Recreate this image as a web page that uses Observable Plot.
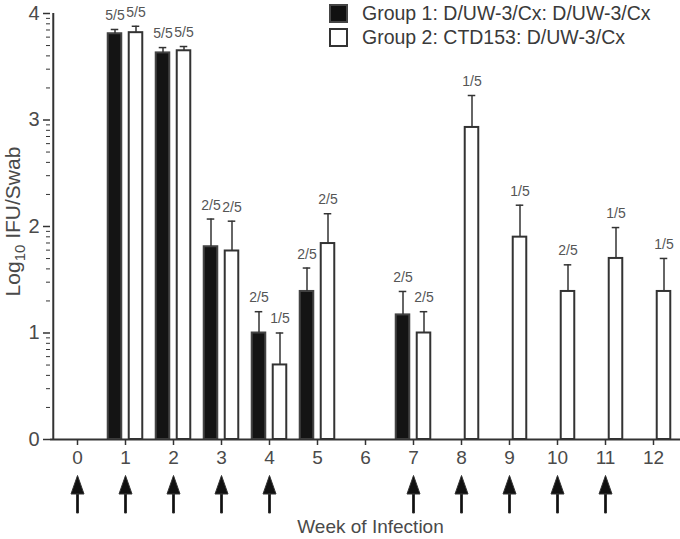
<!DOCTYPE html>
<html>
<head>
<meta charset="utf-8">
<script src="https://cdn.jsdelivr.net/npm/d3@7"></script>
<script src="https://cdn.jsdelivr.net/npm/@observablehq/plot@0.6"></script>
<style>
  body { margin: 0; background: #fff; font-family: "Liberation Sans", Arial, Helvetica, sans-serif; }
  #wrap { position: relative; width: 680px; height: 539px; }
  #legend { position: absolute; left: 329px; top: 1px; color: #3a3a3a; font-size: 19.5px; }
  .row { display: flex; align-items: center; height: 24px; }
  .sw { width: 15px; height: 15px; border: 2px solid #333; margin-right: 14px; box-sizing: content-box; }
</style>
</head>
<body>
<div id="wrap">
  <div id="legend">
    <div class="row"><span class="sw" style="background:#111;border-color:#444"></span><span>Group 1: D/UW-3/Cx: D/UW-3/Cx</span></div>
    <div class="row"><span class="sw" style="background:#fff"></span><span>Group 2: CTD153: D/UW-3/Cx</span></div>
  </div>
</div>
<script>
// ---- data ----
const weeks = [0, 1, 2, 3, 4, 5, 6, 7, 8, 9, 10, 11, 12];
const yTicks = [0, 1, 2, 3, 4];

const g1Weeks = [1, 2, 3, 4, 5, 7];
const g1Mean  = [3.81, 3.63, 1.81, 1.00, 1.39, 1.17];
const g1Err   = [3.85, 3.68, 2.07, 1.20, 1.61, 1.39];
const g1Pos   = ["5/5", "5/5", "2/5", "2/5", "2/5", "2/5"];

const g2Weeks = [1, 2, 3, 4, 5, 7, 8, 9, 10, 11, 12];
const g2Mean  = [3.82, 3.65, 1.77, 0.70, 1.84, 1.00, 2.93, 1.90, 1.39, 1.70, 1.39];
const g2Err   = [3.88, 3.69, 2.05, 1.00, 2.12, 1.20, 3.23, 2.20, 1.64, 1.99, 1.70];
const g2Pos   = ["5/5", "5/5", "2/5", "1/5", "2/5", "2/5", "1/5", "1/5", "2/5", "1/5", "1/5"];

const inoculationWeeks = [0, 1, 2, 3, 4, 7, 8, 9, 10, 11];

const g1 = g1Weeks.map((w, i) => ({week: w, mean: g1Mean[i], err: g1Err[i], pos: g1Pos[i]}));
const g2 = g2Weeks.map((w, i) => ({week: w, mean: g2Mean[i], err: g2Err[i], pos: g2Pos[i]}));

// minor ticks (logarithmic within each unit, as in the original)
const minorTicks = [];
for (let n = 0; n < 4; n++) for (let k = 2; k <= 9; k++) minorTicks.push(n + Math.log10(k));

// ---- layout ----
const W = 680, H = 539;
const mL = 50, mR = 0, mT = 13, mB = 100;
const step = (W - mL - mR) / weeks.length;
const half = step / 2;
const off = 10.5, barW = 14, capW = 8;
const ink = "#333", txt = "#4a4a4a";

const arrowSymbol = {
  draw(ctx) {
    ctx.moveTo(0, -18.5);
    ctx.lineTo(6.5, 0);
    ctx.lineTo(-6.5, 0);
    ctx.closePath();
    ctx.moveTo(-1, 0);
    ctx.lineTo(1, 0);
    ctx.lineTo(1, 19);
    ctx.lineTo(-1, 19);
    ctx.closePath();
  }
};

const chart = Plot.plot({
  width: W, height: H,
  marginLeft: mL, marginRight: mR, marginTop: mT, marginBottom: mB,
  style: {fontFamily: '"Liberation Sans", Arial, Helvetica, sans-serif', background: "#fff"},
  x: {type: "band", domain: weeks, padding: 0},
  y: {domain: [0, 4]},
  marks: [
    // bars
    Plot.barY(g1, {x: "week", y: "mean", fill: "#141414", stroke: "#444", strokeWidth: 2,
      insetLeft: half - off - barW / 2, insetRight: step - (half - off + barW / 2)}),
    Plot.barY(g2, {x: "week", y: "mean", fill: "#fff", stroke: ink, strokeWidth: 2,
      insetLeft: half + off - barW / 2, insetRight: step - (half + off + barW / 2)}),
    // error bars
    Plot.ruleX(g1, {x: "week", y1: "mean", y2: "err", dx: -off, stroke: ink, strokeWidth: 1.5}),
    Plot.ruleX(g2, {x: "week", y1: "mean", y2: "err", dx: off, stroke: ink, strokeWidth: 1.5}),
    Plot.tickY(g1, {x: "week", y: "err", stroke: ink, strokeWidth: 1.5,
      insetLeft: half - off - capW / 2, insetRight: step - (half - off + capW / 2)}),
    Plot.tickY(g2, {x: "week", y: "err", stroke: ink, strokeWidth: 1.5,
      insetLeft: half + off - capW / 2, insetRight: step - (half + off + capW / 2)}),
    // positive fraction labels
    Plot.text(g1, {x: "week", y: "err", text: "pos", dx: -off, dy: -14, fontSize: 14, fill: "#555"}),
    Plot.text(g2, {x: "week", y: "err", text: "pos", dx: off, dy: -14, fontSize: 14, fill: "#555"}),
    // axes
    Plot.ruleY([0], {stroke: ink, strokeWidth: 2}),
    Plot.ruleX([weeks[0]], {x: d => d, y1: 0, y2: 4, dx: -half, stroke: ink, strokeWidth: 2}),
    Plot.axisY({ticks: yTicks, tickSize: 7, tickPadding: 4, fontSize: 20, stroke: ink, fill: txt, strokeWidth: 1.5, label: null, tickFormat: d => String(d)}),
    Plot.axisY({ticks: minorTicks, tickSize: 4, stroke: ink, strokeWidth: 1, label: null, tickFormat: () => ""}),
    Plot.axisX({tickSize: 6, tickPadding: 5, fontSize: 19, stroke: ink, fill: txt, strokeWidth: 1.5, label: null}),
    // inoculation arrows
    Plot.dot(inoculationWeeks, {x: d => d, y: 0, dy: 54.5, symbol: arrowSymbol, r: 5, fill: "#111", stroke: "#333", strokeWidth: 1}),
    // axis titles
    Plot.text(["Week of Infection"], {frameAnchor: "bottom", textAnchor: "middle", lineAnchor: "middle", dx: 5, dy: 87, fontSize: 19, fill: txt}),
    Plot.text(["Log10 IFU/Swab"], {frameAnchor: "left", textAnchor: "middle", lineAnchor: "middle", dx: -37, dy: -5, rotate: -90, fontSize: 21, fill: txt, className: "ylab"})
  ]
});
document.getElementById("wrap").prepend(chart);
// subscript "10" in the y-axis title
const t = chart.querySelector(".ylab text");
if (t) {
  t.textContent = "";
  const ns = "http://www.w3.org/2000/svg";
  const a = document.createElementNS(ns, "tspan"); a.textContent = "Log";
  const b = document.createElementNS(ns, "tspan"); b.textContent = "10"; b.setAttribute("font-size", "15"); b.setAttribute("dy", "5");
  const c = document.createElementNS(ns, "tspan"); c.textContent = " IFU/Swab"; c.setAttribute("dy", "-5");
  t.append(a, b, c);
}
</script>
</body>
</html>
